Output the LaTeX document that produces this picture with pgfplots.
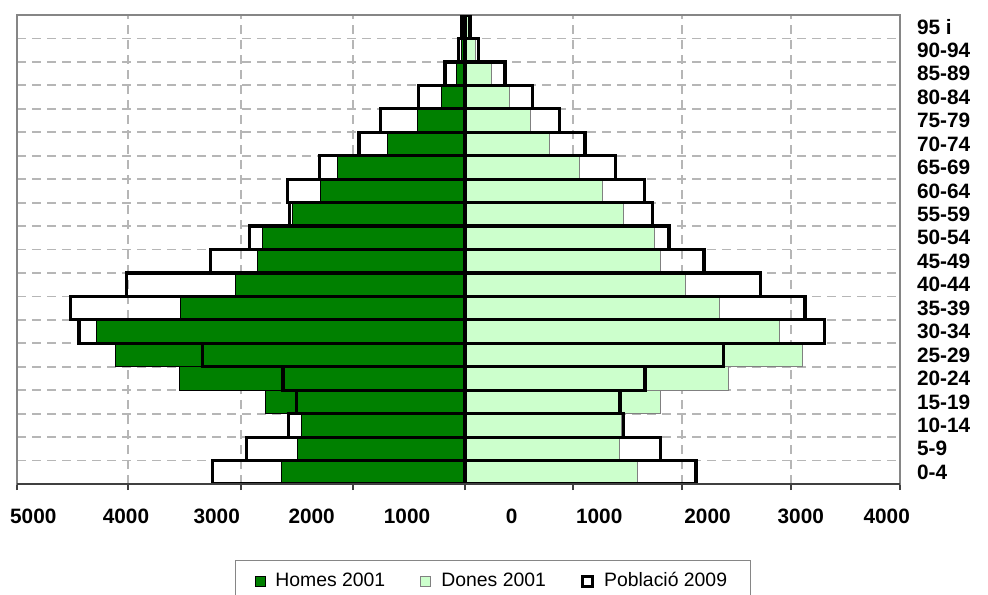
\documentclass[border=0pt]{standalone}
\usepackage{pgfplots}
\pgfplotsset{compat=1.18}
\usepackage{pgfplotstable}
\usepackage{fontspec}
\setmainfont{Liberation Sans}

\definecolor{homes}{HTML}{008000}
\definecolor{dones}{HTML}{CCFFCC}
\definecolor{gridgray}{HTML}{B6B6B6}
\definecolor{framegray}{HTML}{868686}

% age group index, men 2001, women 2001, men 2009, women 2009 (men negative)
\pgfplotstableread{
age homes dones hom09 don09
0  -1667 1567 -2297 2100
1  -1524 1409 -1985 1779
2  -1491 1424 -1603 1443
3  -1818 1779 -1530 1409
4  -2597 2397 -1655 1636
5  -3182 3070 -2385 2349
6  -3348 2858 -3509 3267
7  -2585 2312 -3585 3091
8  -2091 2009 -3076 2688
9  -1891 1779 -2312 2173
10 -1839 1724 -1961 1855
11 -1566 1443 -1598 1703
12 -1312 1248 -1615 1630
13 -1161 1039 -1325 1370
14 -706  770  -964  1091
15 -434  594  -766  858
16 -212  403  -424  612
17 -76   242  -182  364
18 -30   91   -61   121
19 -15   30   -30   45
}\pyramid

\begin{document}
\begin{tikzpicture}
\useasboundingbox (0,0) rectangle (494pt,297pt);
\begin{axis}[
    at={(8.5pt,55pt)}, anchor=south west,
    scale only axis, width=441.5pt, height=234.5pt,
    xmin=-4073, xmax=3955, ymin=-0.5, ymax=19.5,
    xbar, bar width=1,
    xtick={-4073,-3064,-2036,-1018,0,982,1973,2964,3955},
    xticklabels={},
    extra x ticks={-3925,-3082,-2257,-1394,-527,425,1220,2205,3053,3834},
    extra x tick labels={5000,4000,3000,2000,1000,0,1000,2000,3000,4000},
    extra x tick style={xmajorgrids=false, major tick length=0pt,
        tick label style={yshift=-9pt}},
    xtick pos=bottom, tick align=outside,
    major tick length=3pt,
    x tick style={black!75, line width=0.6pt},
    xmajorgrids,
    ytick={0,...,19},
    yticklabels={0-4,5-9,10-14,15-19,20-24,25-29,30-34,35-39,40-44,45-49,
        50-54,55-59,60-64,65-69,70-74,75-79,80-84,85-89,90-94,95 i},
    yticklabel pos=right,
    y tick style={draw=none},
    yticklabel style={anchor=west, xshift=2pt},
    minor ytick={0.5,1.5,...,18.5},
    yminorgrids, minor tick length=0pt,
    grid style={gridgray, line width=0.9pt, dash pattern=on 4.5pt off 3pt},
    minor grid style={gridgray, line width=0.9pt, dash pattern=on 4.5pt off 3pt},
    axis line style={framegray, line width=0.6pt},
    ticklabel style={font=\bfseries\fontsize{10.4}{12}\selectfont},
    legend columns=3,
    legend style={at={(0.2469,-0.162)}, anchor=north west,
        draw=framegray, line width=0.5pt,
        font=\fontsize{9.7}{11}\selectfont,
        inner xsep=9.5pt, inner ysep=4pt,
        /tikz/every odd column/.append style={column sep=3pt},
        /tikz/every even column/.append style={column sep=15.5pt}},
    legend cell align=left,
    legend image code/.code={\draw[#1] (0pt,-2.5pt) rectangle (5pt,2.5pt);},
]
\addplot[bar shift=0pt, fill=homes, draw=black, line width=0.4pt]
    table[x=homes, y=age] {\pyramid};
\addlegendentry{Homes 2001}
\addplot[bar shift=0pt, fill=dones, draw=gray, line width=0.5pt]
    table[x=dones, y=age] {\pyramid};
\addlegendentry{Dones 2001}
\addplot[bar shift=0pt, fill=none, draw=black, line width=1.6pt]
    table[x=hom09, y=age] {\pyramid};
\addlegendentry{Població 2009}
\addplot[bar shift=0pt, fill=none, draw=black, line width=1.6pt, forget plot]
    table[x=don09, y=age] {\pyramid};
\draw[black!75, line width=1pt] (rel axis cs:0,0) -- (rel axis cs:1,0);
\end{axis}
\end{tikzpicture}
\end{document}
